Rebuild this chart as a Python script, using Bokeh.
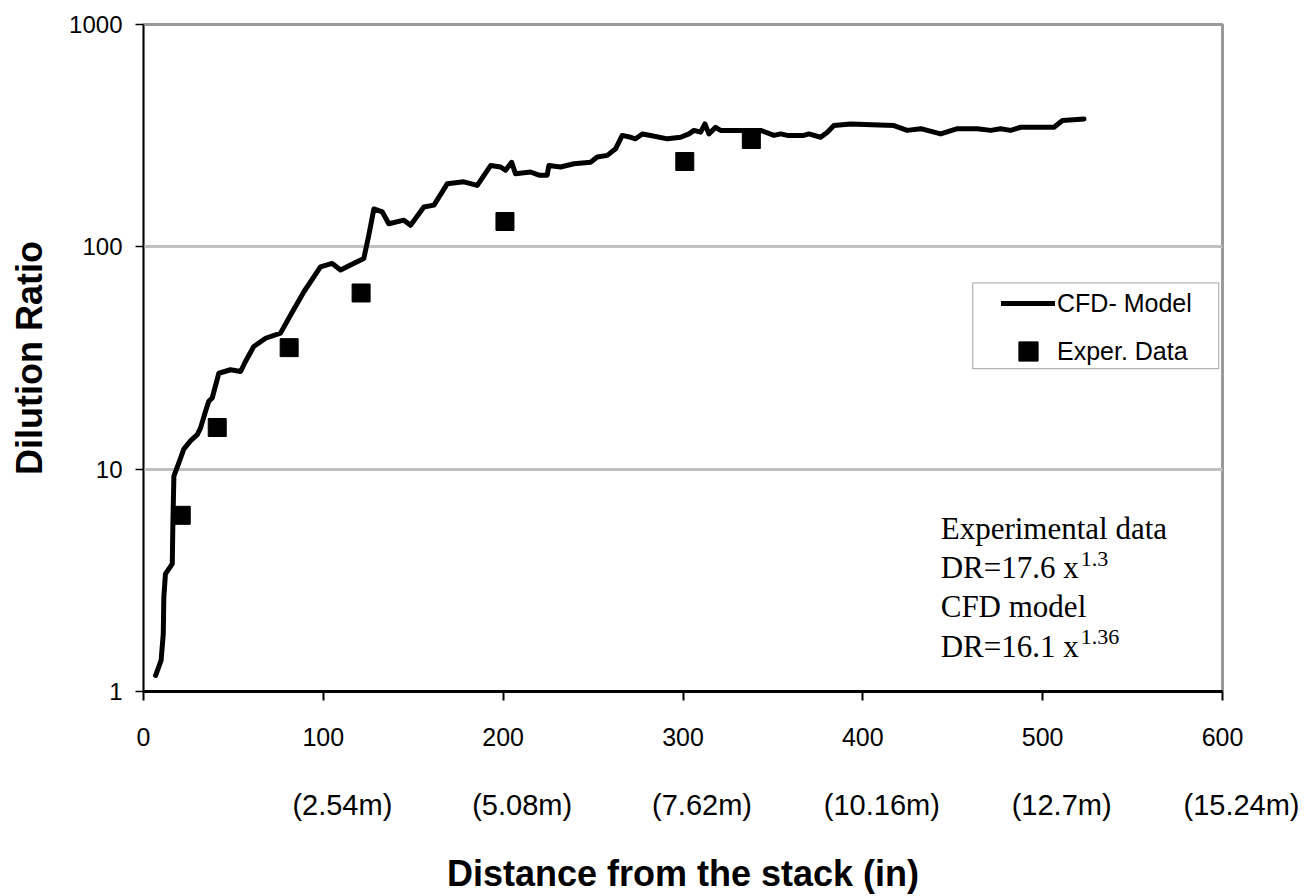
from bokeh.plotting import figure
from bokeh.models import (FixedTicker, PrintfTickFormatter, Legend, LegendItem,
                          BoxAnnotation)
from bokeh.core.properties import value
from bokeh.embed import file_html
from bokeh.resources import INLINE

# ---------------- data ----------------
cfd_x = [6.7, 9.8, 11.0, 11.3, 12.2, 16.0, 16.3, 16.9, 20.6, 22.4, 26.1, 29.9, 31.7,
         34.5, 36.3, 38.2, 41.9, 48.4, 54.0, 56.7, 61.3, 67.9, 76.2, 81.8, 89.2, 98.4,
         104.9, 109.6, 115.1, 122.5, 125.3, 128.1, 132.8, 136.4, 144.8, 148.5, 155.9,
         161.5, 168.9, 178.1, 185.6, 193.0, 198.6, 201.3, 204.7, 206.9, 215.2, 219.9,
         224.5, 225.4, 231.9, 239.3, 248.6, 252.3, 257.9, 262.5, 266.2, 270.9, 273.6,
         277.4, 282.0, 291.3, 298.7, 303.3, 306.1, 309.8, 312.2, 314.4, 318.1, 320.9,
         330.2, 343.2, 350.6, 354.3, 358.0, 367.2, 370.0, 376.5, 380.3, 383.9, 393.2,
         417.3, 424.7, 432.2, 443.3, 452.6, 463.7, 471.1, 476.6, 482.2, 487.8, 506.3,
         511.0, 523.0]
cfd_y = [1.18, 1.38, 1.82, 2.65, 3.38, 3.75, 5.45, 9.3, 11.2, 12.3, 13.4, 14.3, 15.3,
         18.2, 20.2, 20.9, 27, 28, 27.5, 30.5, 35.6, 38.8, 40.9, 49.4, 62.8, 81.3,
         84.2, 78.6, 82.8, 88.6, 113, 148, 143.5, 127, 131.8, 125, 151,
         154, 192, 196, 189, 232, 228.6, 221, 240, 213, 217, 210,
         210, 232, 228.6, 236.5, 240, 253.5, 257.8, 276, 317, 311, 306,
         322, 317, 306, 311, 322, 334, 328, 357, 322, 345, 334,
         334, 334, 317, 322, 317, 317, 322, 311, 328, 351, 357,
         351, 334, 340, 322, 340, 340, 334, 340, 334, 345, 345,
         370, 376]

exp_x = [21, 41, 81, 121, 201, 301, 338]
exp_y = [6.2, 15.4, 35.2, 62, 130, 242, 304]

x_ticks = [0, 100, 200, 300, 400, 500, 600]
y_ticks = [1, 10, 100, 1000]
metric_ticks = [100, 200, 300, 400, 500, 600]
metric_labels = ["(2.54m)", "(5.08m)", "(7.62m)", "(10.16m)", "(12.7m)", "(15.24m)"]

note_lines = ["Experimental data", "DR=17.6 x", "CFD model", "DR=16.1 x"]
note_line_y = [5.39, 3.60, 2.40, 1.60]
note_exps = ["1.3", "1.36"]
note_exp_y = [3.60, 1.60]

SANS = "Liberation Sans"
SERIF = "Liberation Serif"

# ---------------- figure ----------------
p = figure(width=1309, height=896, x_range=(0, 600), y_range=(1, 1000),
           y_axis_type="log", output_backend="svg", toolbar_location=None,
           min_border_left=143, min_border_right=87, min_border_top=24,
           min_border_bottom=205, background_fill_color="white",
           border_fill_color="white")

p.outline_line_color = "#9a9a9a"
p.outline_line_width = 3

p.xgrid.visible = False
p.ygrid.ticker = FixedTicker(ticks=[10, 100])
p.ygrid.grid_line_color = "#c0c0c0"
p.ygrid.grid_line_width = 3
p.ygrid.minor_grid_line_color = None

# x axis
xa = p.xaxis[0]
xa.ticker = FixedTicker(ticks=x_ticks, minor_ticks=[])
xa.axis_line_color = "black"
xa.axis_line_width = 3
xa.major_tick_out = 9
xa.major_tick_in = 0
xa.major_tick_line_width = 2
xa.major_tick_line_color = "black"
xa.minor_tick_line_color = None
xa.major_label_text_font = SANS
xa.major_label_text_font_size = "25px"
xa.major_label_text_color = "black"
xa.major_label_standoff = 27
xa.axis_label = "Distance from the stack (in)"
xa.axis_label_text_font = SANS
xa.axis_label_text_font_style = "bold"
xa.axis_label_text_font_size = "36px"
xa.axis_label_text_color = "black"
xa.axis_label_standoff = 104

# y axis
ya = p.yaxis[0]
ya.ticker = FixedTicker(ticks=y_ticks, minor_ticks=[])
ya.formatter = PrintfTickFormatter(format="%d")
ya.axis_line_color = "black"
ya.axis_line_width = 1.5
ya.major_tick_out = 8
ya.major_tick_in = 0
ya.major_tick_line_width = 1.5
ya.major_tick_line_color = "black"
ya.minor_tick_line_color = None
ya.major_label_text_font = SANS
ya.major_label_text_font_size = "24px"
ya.major_label_text_color = "black"
ya.major_label_standoff = 13
ya.axis_label = "Dilution Ratio"
ya.axis_label_text_font = SANS
ya.axis_label_text_font_style = "bold"
ya.axis_label_text_font_size = "36px"
ya.axis_label_text_color = "black"
ya.axis_label_standoff = 16

# ---------------- marks ----------------
line_r = p.line(cfd_x, cfd_y, line_color="black", line_width=5,
                line_join="round", line_cap="round")
sq_r = p.scatter(exp_x, exp_y, marker="square", size=18, fill_color="black",
                 line_color="black")

# second row of x labels (metres)
p.text(x=metric_ticks, y=[0.309] * len(metric_ticks), text=metric_labels,
       text_font=value(SANS), text_font_size="29px", text_color="black",
       text_align="center", text_baseline="middle", x_offset=19, level="overlay")

# equation notes
p.text(x=[443.3] * len(note_lines), y=note_line_y, text=note_lines,
       text_font=value(SERIF), text_font_size="31px", text_color="black",
       text_align="left", text_baseline="alphabetic")
p.text(x=[443.3] * len(note_exps), y=note_exp_y, text=note_exps,
       text_font=value(SERIF), text_font_size="22px", text_color="black",
       text_align="left", text_baseline="alphabetic", x_offset=140, y_offset=-9)

# legend frame
box = BoxAnnotation(left=461.1, right=597.9, top=68.9, bottom=28.3,
                    fill_color="white", fill_alpha=1.0, line_color="black",
                    line_width=1.2)
p.add_layout(box)

legend = Legend(items=[LegendItem(label="CFD- Model", renderers=[line_r]),
                       LegendItem(label="Exper. Data", renderers=[sq_r])],
                location=(858, 316), glyph_width=54, glyph_height=48,
                label_height=48, spacing=0, padding=0, margin=0,
                label_standoff=2, border_line_alpha=0, background_fill_alpha=0,
                label_text_font=SANS, label_text_font_size="25px",
                label_text_color="black")
p.add_layout(legend, "center")

open("out.html", "w").write(file_html(p, INLINE))
